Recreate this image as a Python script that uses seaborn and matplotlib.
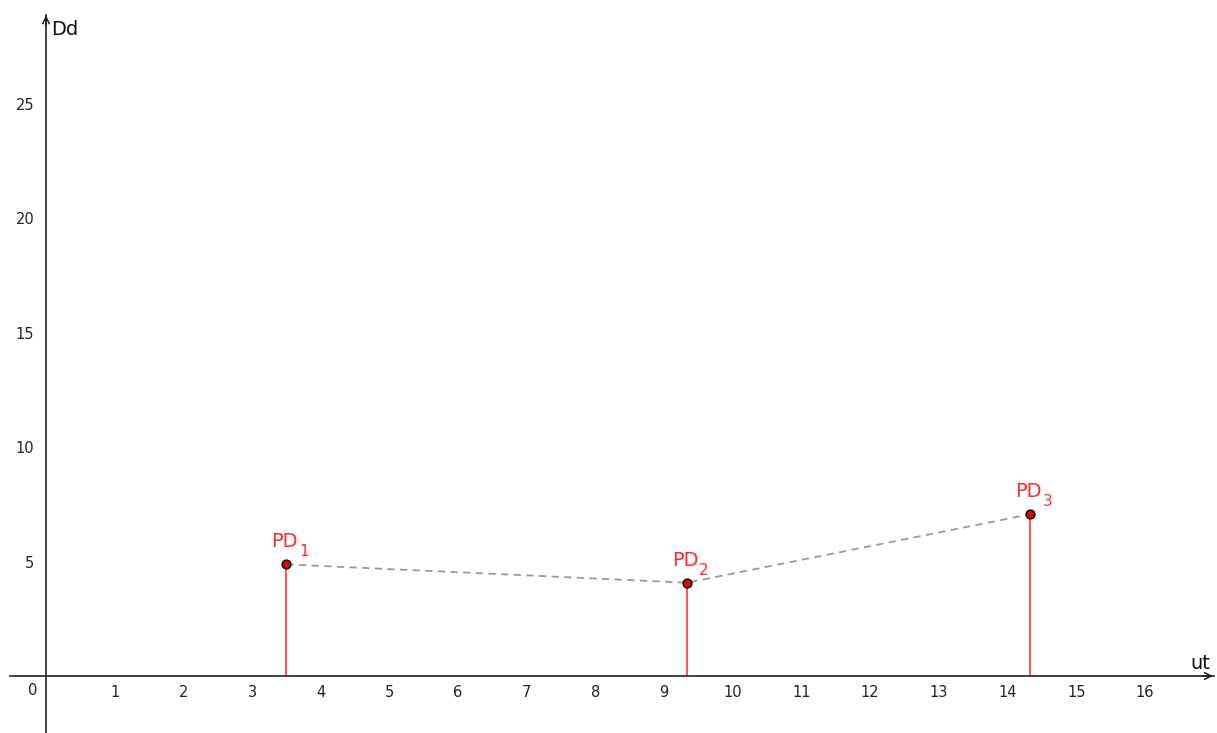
import matplotlib
matplotlib.use("Agg")
import matplotlib.pyplot as plt
import seaborn as sns
import pandas as pd

# Points on the ut / Dd plane
ut_values = [3.5, 9.33, 14.33]
dd_values = [4.88, 4.08, 7.07]
point_names = ["PD", "PD", "PD"]
point_indices = ["1", "2", "3"]
x_ticks = list(range(1, 17))
y_ticks = [5, 10, 15, 20, 25]

df = pd.DataFrame({"ut": ut_values, "Dd": dd_values,
                   "name": point_names, "idx": point_indices})

sns.set_theme(style="white")
plt.rcParams["font.family"] = ["DejaVu Sans"]

fig = plt.figure(figsize=(12.17, 7.33), dpi=100)
ax = fig.add_axes([0, 0, 1, 1])

XMIN, XMAX = -0.67, 17.05
YMIN, YMAX = -2.49, 29.55
ax.set_xlim(XMIN, XMAX)
ax.set_ylim(YMIN, YMAX)

red = "#ff2a2a"

# vertical stems from the ut axis up to each point
ax.vlines(df["ut"], 0, df["Dd"], color="#ff5a5a", linewidth=1.5, zorder=2)

# dashed connection between consecutive points
sns.lineplot(data=df, x="ut", y="Dd", ax=ax, color="#999999", linewidth=1.3,
             linestyle=(0, (4, 3)), sort=False, zorder=3)

sns.scatterplot(data=df, x="ut", y="Dd", ax=ax, color="#e00000",
                edgecolor="black", linewidth=1.0, s=40, zorder=4)

# point labels: name with a lowered index
for x, y, name, idx in zip(df["ut"], df["Dd"], df["name"], df["idx"]):
    main = ax.annotate(name, (x, y), xytext=(-15, 17), textcoords="offset pixels",
                       ha="left", va="baseline", color=red, fontsize=14)
    ax.annotate(idx, xy=(1, 0), xycoords=main, xytext=(1, -8),
                textcoords="offset pixels", ha="left", va="bottom",
                color=red, fontsize=11)

# axes through the origin
for side in ("top", "right"):
    ax.spines[side].set_visible(False)
ax.spines["left"].set_position(("data", 0))
ax.spines["bottom"].set_position(("data", 0))
ax.spines["left"].set_bounds(YMIN, 28.9)
ax.spines["bottom"].set_bounds(-0.52, 17.0)
for side in ("left", "bottom"):
    ax.spines[side].set_color("#222222")
    ax.spines[side].set_linewidth(1.2)

ax.set_xticks(x_ticks)
ax.set_yticks(y_ticks)
ax.tick_params(axis="both", direction="out", length=3.5, width=1,
               color="#222222", labelsize=10.5, labelcolor="#222222")
ax.tick_params(axis="x", pad=3)
ax.tick_params(axis="y", pad=5)
ax.set_xlabel("")
ax.set_ylabel("")

# arrow heads at the axis ends
ax.annotate("", xy=(17.03, 0), xytext=(16.8, 0),
            arrowprops=dict(arrowstyle="->", color="#222222", lw=1.1,
                            mutation_scale=12))
ax.annotate("", xy=(0, 29.0), xytext=(0, 28.3),
            arrowprops=dict(arrowstyle="->", color="#222222", lw=1.1,
                            mutation_scale=12))

ax.text(-0.2, -0.3, "0", ha="center", va="top", fontsize=10.5, color="#222222")
ax.text(0.07, 28.68, "Dd", ha="left", va="top", fontsize=14, color="#111111")
ax.text(16.95, 0.13, "ut", ha="right", va="bottom", fontsize=14, color="#111111")

ax.grid(False)
fig.savefig("out.png", dpi=100)
